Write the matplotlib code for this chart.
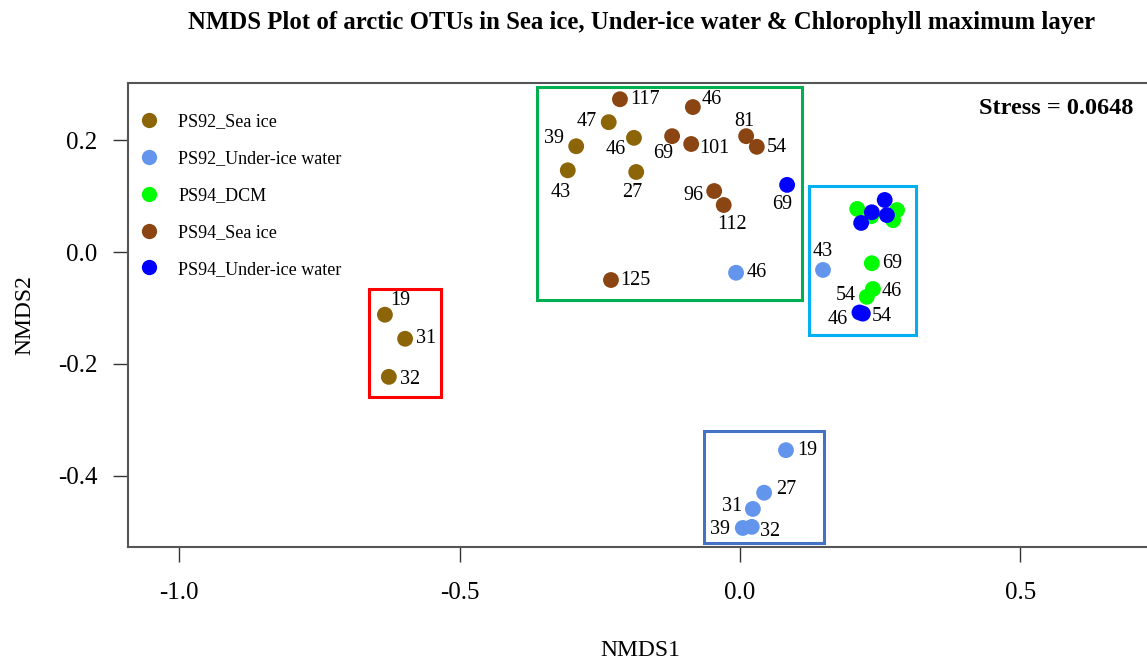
import numpy as np
import matplotlib.pyplot as plt
from matplotlib.patches import Rectangle
from matplotlib.lines import Line2D

plt.rcParams['font.family'] = ['Liberation Serif', 'DejaVu Serif']

# NMDS scores per group (x = NMDS1, y = NMDS2) and sample labels
groups = ['PS92_Sea ice', 'PS92_Under-ice water', 'PS94_DCM', 'PS94_Sea ice', 'PS94_Under-ice water']
colors = ['#8B6508', '#6495ED', '#00FF00', '#8B4513', '#0000FF']

ps92_ice_x = [-0.633, -0.597, -0.626, -0.234, -0.292, -0.189, -0.307, -0.185]
ps92_ice_y = [-0.112, -0.155, -0.223, 0.232, 0.189, 0.204, 0.146, 0.143]
ps92_ice_lab = ['19', '31', '32', '47', '39', '46', '43', '27']

ps92_uiw_x = [-0.007, 0.148, 0.082, 0.043, 0.023, 0.005, 0.021]
ps92_uiw_y = [-0.037, -0.032, -0.354, -0.430, -0.459, -0.493, -0.491]
ps92_uiw_lab = ['46', '43', '19', '27', '31', '39', '32']

ps94_dcm_x = [0.209, 0.234, 0.280, 0.273, 0.235, 0.237, 0.226]
ps94_dcm_y = [0.077, 0.064, 0.075, 0.057, -0.020, -0.066, -0.080]
ps94_dcm_lab = ['', '', '', '', '69', '46', '54']

ps94_ice_x = [-0.214, -0.084, -0.121, -0.087, 0.011, 0.030, -0.046, -0.029, -0.230]
ps94_ice_y = [0.273, 0.259, 0.207, 0.193, 0.207, 0.188, 0.109, 0.084, -0.050]
ps94_ice_lab = ['117', '46', '69', '101', '81', '54', '96', '112', '125']

ps94_uiw_x = [0.084, 0.235, 0.216, 0.258, 0.262, 0.213, 0.219]
ps94_uiw_y = [0.120, 0.071, 0.052, 0.093, 0.066, -0.108, -0.110]
ps94_uiw_lab = ['69', '', '', '', '', '46', '54']

stress = 0.0648

# label offsets in pixels (dx, dy) for each point
ps92_ice_off = [(15, 14), (21, 0), (21, -3), (-22, 1), (-22, 8), (-18, -12), (-7, -22), (-4, -21)]
ps92_uiw_off = [(21, 0), (0, 18), (21, 0), (22, 3), (-21, 2), (-23, -2), (18, -5)]
ps94_dcm_off = [(0, 0)] * 4 + [(20, 0), (19, -3), (-21, 1)]
ps94_ice_off = [(25, 0), (19, 8), (-9, -17), (23, -4), (-2, 15), (20, -1), (-21, -4), (8, -19), (24, 0)]
ps94_uiw_off = [(-5, -20)] + [(0, 0)] * 4 + [(-22, -7), (19, -3)]

# cluster boxes: (x0, y0, x1, y1, colour)
boxes = [
    (-0.362, -0.086, 0.1105, 0.295, '#00B050'),
    (0.123, -0.148, 0.314, 0.118, '#00B0F0'),
    (-0.661, -0.259, -0.533, -0.066, '#FF0000'),
    (-0.064, -0.520, 0.150, -0.320, '#4472C4'),
]

data = [
    (ps92_ice_x, ps92_ice_y, ps92_ice_lab, ps92_ice_off),
    (ps92_uiw_x, ps92_uiw_y, ps92_uiw_lab, ps92_uiw_off),
    (ps94_dcm_x, ps94_dcm_y, ps94_dcm_lab, ps94_dcm_off),
    (ps94_ice_x, ps94_ice_y, ps94_ice_lab, ps94_ice_off),
    (ps94_uiw_x, ps94_uiw_y, ps94_uiw_lab, ps94_uiw_off),
]

fig = plt.figure(figsize=(11.47, 6.64), dpi=100)
# the axes run past the right edge of the figure on purpose
ax = fig.add_axes([0.1116, 0.1762, 0.915, 0.6988])

for (x0, y0, x1, y1, c) in boxes:
    ax.add_patch(Rectangle((x0, y0), x1 - x0, y1 - y0, fill=False,
                           edgecolor=c, linewidth=2.2, zorder=1))

for (xs, ys, labs, offs), col in zip(data, colors):
    ax.scatter(xs, ys, s=130, color=col, edgecolors='none', zorder=3)
    for x, y, lab, (dx, dy) in zip(xs, ys, labs, offs):
        if lab:
            ax.annotate(lab, (x, y), xytext=(dx, dy), textcoords='offset pixels',
                        ha='center', va='center', fontsize=14.5, zorder=4)

ax.set_xlim(-1.091, 0.78)
ax.set_ylim(-0.527, 0.302)
ax.set_xticks([-1.0, -0.5, 0.0, 0.5])
ax.set_xticklabels(['-1.0', '-0.5', '0.0', '0.5'])
ax.set_yticks([-0.4, -0.2, 0.0, 0.2])
ax.set_yticklabels(['-0.4', '-0.2', '0.0', '0.2'])
ax.tick_params(direction='out', length=11, width=1, colors='#333333',
               labelsize=18, pad=14, labelcolor='black')
ax.tick_params(axis='y', pad=11)
for sp in ax.spines.values():
    sp.set_color('#555555')
    sp.set_linewidth(1.5)

ax.set_xlabel('NMDS1', fontsize=17)
ax.set_ylabel('NMDS2', fontsize=17)
ax.xaxis.set_label_coords(0.488, -0.2)
ax.yaxis.set_label_coords(-0.088, 0.5)

handles = [Line2D([], [], marker='o', linestyle='none', markersize=11,
                  markerfacecolor=c, markeredgecolor='none') for c in colors]
ax.legend(handles, groups, loc='upper left', bbox_to_anchor=(-0.009, 0.962),
          frameon=False, fontsize=13, labelspacing=1.1, handletextpad=0.6,
          borderaxespad=0.3)

ax.text(0.701, 0.257, 'Stress = %.4f' % stress, ha='right', va='center',
        fontsize=17.5, fontweight='bold')

fig.text(0.559, 0.966, 'NMDS Plot of arctic OTUs in Sea ice, Under-ice water & Chlorophyll maximum layer',
         ha='center', va='center', fontsize=17.8, fontweight='bold')

fig.savefig('out.png', dpi=100)
